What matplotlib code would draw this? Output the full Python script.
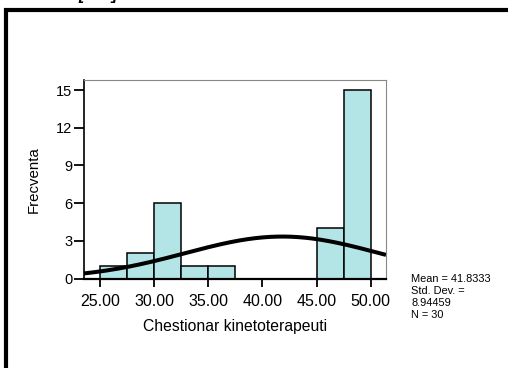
import numpy as np
import matplotlib.pyplot as plt
from matplotlib.patches import Rectangle

plt.rcParams['font.family'] = ['Liberation Sans', 'DejaVu Sans']

# histogram bins (width 2.5) and counts
bin_edges = [25.0, 27.5, 30.0, 32.5, 35.0, 37.5, 40.0, 42.5, 45.0, 47.5, 50.0]
counts = [1, 2, 6, 1, 1, 0, 0, 0, 4, 15]

mean_val = 41.8333
std_val = 8.94459
n_val = 30

xticks = [25, 30, 35, 40, 45, 50]
yticks = [0, 3, 6, 9, 12, 15]

fig = plt.figure(figsize=(5.08, 3.68), dpi=100, facecolor='w')
ax = fig.add_axes([84 / 508, 1 - 278.6 / 368, 302 / 508, 198.6 / 368])

# bars
lefts = bin_edges[:-1]
widths = np.diff(bin_edges)
ax.bar(lefts, counts, width=widths, align='edge', color='#b4e5e6',
       edgecolor='black', linewidth=1.1, zorder=2)

ax.set_xlim(23.52, 51.41)
ax.set_ylim(0, 15.8)

# normal curve scaled to the histogram
xs = np.linspace(23.52, 51.41, 300)
binw = 2.5
ys = n_val * binw / (std_val * np.sqrt(2 * np.pi)) * np.exp(-0.5 * ((xs - mean_val) / std_val) ** 2)
ax.plot(xs, ys, color='black', linewidth=2.9, zorder=3, solid_capstyle='butt')

ax.set_xticks(xticks)
ax.set_xticklabels(['%.2f' % v for v in xticks], fontsize=11.5)
ax.set_yticks(yticks)
ax.set_yticklabels([str(v) for v in yticks], fontsize=10.5)
ax.tick_params(axis='x', length=6, width=1.3, color='black', pad=5)
ax.tick_params(axis='y', length=7.5, width=1.3, color='black', pad=1)

for side in ['top', 'right']:
    ax.spines[side].set_color('#888888')
    ax.spines[side].set_linewidth(0.8)
ax.spines['left'].set_color('black')
ax.spines['left'].set_linewidth(1.2)
ax.spines['bottom'].set_color('black')
ax.spines['bottom'].set_linewidth(1.6)

ax.set_xlabel('Chestionar kinetoterapeuti', fontsize=11.3, labelpad=7)
ax.set_ylabel('Frecventa', fontsize=10.8, labelpad=11)

# stats box text
fig.text(411 / 508, 1 - 274 / 368,
         'Mean = 41.8333\nStd. Dev. =\n8.94459\nN = 30',
         fontsize=7.9, va='top', ha='left', linespacing=1.25)

# thick outer frame (left and top edges visible)
fig.patches.append(Rectangle((6 / 508, -0.2), 1.2, 1.2 - 10 / 368,
                             transform=fig.transFigure, fill=False,
                             edgecolor='black', linewidth=3.0))

# bracket remnants cut off at the top
fig.text(78 / 508, 1.0, '[', fontsize=12, fontweight='bold', fontstyle='italic',
         va='baseline', ha='left')
fig.text(111 / 508, 1.0, ']', fontsize=12, fontweight='bold', fontstyle='italic',
         va='baseline', ha='left')

fig.savefig('out.png', dpi=100, facecolor='w')
